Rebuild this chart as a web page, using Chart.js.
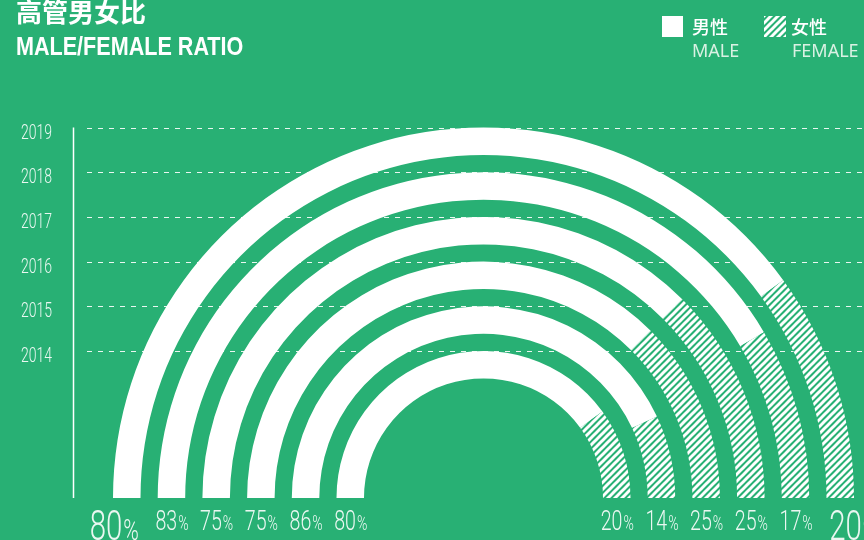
<!DOCTYPE html>
<html>
<head>
<meta charset="utf-8">
<script src="https://cdn.jsdelivr.net/npm/chart.js@4.4.0/dist/chart.umd.min.js"></script>
<style>
  html, body { margin:0; padding:0; width:864px; height:540px; overflow:hidden; background:#28b074; }
  #wrap { position:relative; width:864px; height:540px; }
  #c { position:absolute; left:0; top:0; }
  .title-cn { position:absolute; left:16px; top:-2px; font:bold 26px/26px "Noto Sans CJK SC", sans-serif; color:#fff; white-space:nowrap; }
  .title-en { position:absolute; left:16px; top:34px; font:bold 25px/25px "Liberation Sans", Arial, sans-serif; color:#fff; white-space:nowrap; transform:scaleX(0.863); transform-origin:0 0; }
  .lg-cn { position:absolute; top:17px; font:500 18px/18px "Noto Sans CJK SC", sans-serif; color:#fff; white-space:nowrap; }
  .lg-en { position:absolute; top:41px; font:400 18px/18px "Noto Sans", sans-serif; color:#d9f1e3; white-space:nowrap; }
  .sw { position:absolute; top:16px; width:21px; height:21px; }
</style>
</head>
<body>
<div id="wrap">
  <canvas id="c" width="864" height="540"></canvas>
  <div class="title-cn">高管男女比</div>
  <div class="title-en">MALE/FEMALE RATIO</div>
  <div class="sw" style="left:662px;background:#fff;"></div>
  <div class="lg-cn" style="left:692px;">男性</div>
  <div class="lg-en" style="left:692px;">MALE</div>
  <canvas class="sw" id="swF" width="22" height="21" style="left:764px;width:22px;"></canvas>
  <div class="lg-cn" style="left:791px;">女性</div>
  <div class="lg-en" style="left:792px;">FEMALE</div>
</div>
<script>
// ---- data ----
const years = ['2014', '2015', '2016', '2017', '2018', '2019'];
const maleShare = [80, 86, 75, 75, 83, 80];
const femaleShare = [20, 14, 25, 25, 17, 20];
const seriesLabels = ['男性 MALE', '女性 FEMALE'];

const BG = '#28b074';
const TEXT = 'rgba(255,255,255,0.9)';

function makeHatch() {
  const s = 7;
  const p = document.createElement('canvas');
  p.width = s; p.height = s;
  const g = p.getContext('2d');
  g.fillStyle = BG;
  g.fillRect(0, 0, s, s);
  g.strokeStyle = '#ffffff';
  g.lineWidth = 3;
  g.lineCap = 'square';
  for (let k = -1; k <= 1; k++) {
    g.beginPath();
    g.moveTo(k * s, s);
    g.lineTo(k * s + s, 0);
    g.stroke();
  }
  return p;
}
const hatchTile = makeHatch();
const ctxMain = document.getElementById('c').getContext('2d');
const hatch = ctxMain.createPattern(hatchTile, 'repeat');

// legend swatch
(function () {
  const sc = document.getElementById('swF').getContext('2d');
  sc.fillStyle = sc.createPattern(hatchTile, 'repeat');
  sc.fillRect(0, 0, 22, 21);
})();

// ring datasets, outermost (latest year) first, with spacer rings between
const RING_W = 27.5, GAP_W = 17.2;
const datasets = [];
for (let i = years.length - 1; i >= 0; i--) {
  datasets.push({
    label: years[i],
    ring: true,
    yearIndex: i,
    data: [maleShare[i], femaleShare[i]],
    backgroundColor: ['#ffffff', hatch],
    borderWidth: 0,
    weight: RING_W
  });
  if (i > 0) {
    datasets.push({
      label: 'gap',
      ring: false,
      data: [1],
      backgroundColor: ['rgba(0,0,0,0)'],
      borderWidth: 0,
      weight: GAP_W
    });
  }
}

function condText(ctx, str, x, y, font, sx, align) {
  ctx.save();
  ctx.font = font;
  const w = ctx.measureText(str).width * sx;
  const left = align === 'right' ? x - w : (align === 'center' ? x - w / 2 : x);
  ctx.translate(left, y);
  ctx.scale(sx, 1);
  ctx.textAlign = 'left';
  ctx.textBaseline = 'alphabetic';
  ctx.fillText(str, 0, 0);
  ctx.restore();
  return w;
}
function textW(ctx, str, font, sx) {
  ctx.save(); ctx.font = font; const w = ctx.measureText(str).width * sx; ctx.restore(); return w;
}

const gridPlugin = {
  id: 'yearGrid',
  beforeDatasetsDraw(chart) {
    const ctx = chart.ctx;
    let topY = Infinity, baseY = 0;
    chart.data.datasets.forEach((ds, di) => {
      if (!ds.ring) return;
      const arc = chart.getDatasetMeta(di).data[0];
      const y = arc.y - arc.outerRadius;
      topY = Math.min(topY, y); baseY = arc.y;
      ctx.save();
      ctx.strokeStyle = 'rgba(255,255,255,0.9)';
      ctx.lineWidth = 1;
      ctx.setLineDash([5, 6]);
      ctx.beginPath();
      ctx.moveTo(87, Math.round(y) + 0.5);
      ctx.lineTo(chart.width, Math.round(y) + 0.5);
      ctx.stroke();
      ctx.restore();
      ctx.fillStyle = TEXT;
      condText(ctx, years[ds.yearIndex], 52, y + 11, '300 20px Roboto', 0.7, 'right');
    });
    ctx.save();
    ctx.strokeStyle = '#ffffff';
    ctx.lineWidth = 1.5;
    ctx.beginPath();
    ctx.moveTo(73.5, topY);
    ctx.lineTo(73.5, baseY);
    ctx.stroke();
    ctx.restore();
  },
  afterDatasetsDraw(chart) {
    const ctx = chart.ctx;
    ctx.fillStyle = TEXT;
    chart.data.datasets.forEach((ds, di) => {
      if (!ds.ring) return;
      const arc = chart.getDatasetMeta(di).data[0];
      const mid = (arc.innerRadius + arc.outerRadius) / 2;
      const outer = di === 0;
      const fD = outer ? '300 42px Roboto' : '300 28px Roboto';
      const fP = outer ? '300 30px Roboto' : '300 20px Roboto';
      const by = outer ? 540 : 530;
      const shift = outer ? 13 : 0;
      const vals = [
        { v: maleShare[ds.yearIndex], cx: arc.x - mid - shift },
        { v: femaleShare[ds.yearIndex], cx: arc.x + mid + shift }
      ];
      vals.forEach(o => {
        const s = String(o.v);
        const dw = textW(ctx, s, fD, 0.7);
        const pw = textW(ctx, '%', fP, 0.7);
        const start = o.cx - (dw + pw) / 2;
        condText(ctx, s, start, by, fD, 0.7, 'left');
        condText(ctx, '%', start + dw + 1, by, fP, 0.7, 'left');
      });
    });
  }
};

new Chart(document.getElementById('c'), {
  type: 'doughnut',
  data: { labels: seriesLabels, datasets },
  options: {
    responsive: false,
    devicePixelRatio: 1,
    animation: false,
    rotation: -90,
    circumference: 180,
    radius: 370.5,
    cutout: (119.5 / 370.5 * 100) + '%',
    layout: { padding: { left: 103, right: 0, top: 85.5, bottom: 0 } },
    plugins: { legend: { display: false }, tooltip: { enabled: false }, title: { display: false } },
    events: []
  },
  plugins: [gridPlugin]
});
</script>
</body>
</html>
